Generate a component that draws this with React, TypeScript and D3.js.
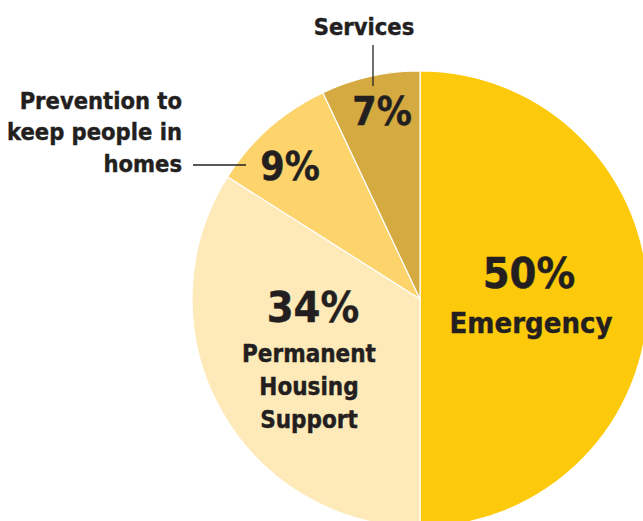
import React from 'react';
import * as d3 from 'd3';

const categories = ['Emergency', 'Permanent Housing Support', 'Prevention to keep people in homes', 'Services'];
const shares = [50, 34, 9, 7];
const sliceColors = ['#fcca0a', '#fee9b8', '#fdd46c', '#d5ab41'];

const W = 643;
const H = 521;
const cx = 420;
const cy = 299;
const R = 228;
const ink = '#231f20';
const font = '"DejaVu Sans Condensed", "DejaVu Sans", sans-serif';

export default function App() {
  const pie = d3.pie<number>().sort(null).value(d => d);
  const arcs = pie(shares);
  const arc = d3.arc<d3.PieArcDatum<number>>().innerRadius(0).outerRadius(R);

  return (
    <svg width={W} height={H} style={{ position: 'absolute', left: 0, top: 0, background: '#fff' }}
      fontFamily={font} fontWeight="bold" fill={ink}>
      <g transform={`translate(${cx},${cy})`}>
        {arcs.map((a, i) => (
          <path key={categories[i]} d={arc(a) || ''} fill={sliceColors[i]} stroke="#fff" strokeWidth={1.2} />
        ))}
      </g>

      <g stroke={ink} strokeWidth={0.4}>
        {/* Emergency */}
        <text x={529} y={288} textAnchor="middle" fontSize={43}>{shares[0]}%</text>
        <text x={531} y={333} textAnchor="middle" fontSize={29}>Emergency</text>

        {/* Permanent housing */}
        <text x={313} y={322} textAnchor="middle" fontSize={43}>{shares[1]}%</text>
        <text textAnchor="middle" fontSize={24}>
          <tspan x={309} y={362}>Permanent</tspan>
          <tspan x={309} y={395}>Housing</tspan>
          <tspan x={309} y={428}>Support</tspan>
        </text>

        {/* Prevention */}
        <text x={290} y={180} textAnchor="middle" fontSize={39}>{shares[2]}%</text>
        <text textAnchor="end" fontSize={23.5}>
          <tspan x={182} y={109}>Prevention to</tspan>
          <tspan x={182} y={140}>keep people in</tspan>
          <tspan x={182} y={172}>homes</tspan>
        </text>

        {/* Services */}
        <text x={382} y={125} textAnchor="middle" fontSize={39}>{shares[3]}%</text>
        <text x={364} y={35} textAnchor="middle" fontSize={23.5}>Services</text>
      </g>
      <line x1={193} x2={246} y1={165} y2={165} stroke={ink} strokeWidth={1.3} />
      <line x1={373} x2={373} y1={45} y2={86} stroke={ink} strokeWidth={1.3} />
    </svg>
  );
}
